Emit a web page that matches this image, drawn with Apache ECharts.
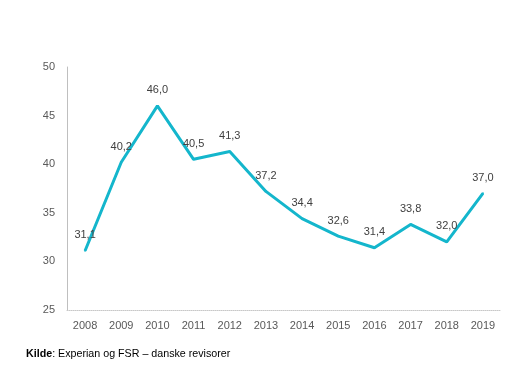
<!DOCTYPE html>
<html>
<head>
<meta charset="utf-8">
<script src="https://cdn.jsdelivr.net/npm/echarts@6/dist/echarts.min.js"></script>
<style>
html,body{margin:0;padding:0;background:#fff;}
#c{width:523px;height:382px;}
</style>
</head>
<body>
<div id="c"></div>
<script>
const years = ['2008','2009','2010','2011','2012','2013','2014','2015','2016','2017','2018','2019'];
const values = [31.1, 40.2, 46.0, 40.5, 41.3, 37.2, 34.4, 32.6, 31.4, 33.8, 32.0, 37.0];
const yTicks = {min: 25, max: 50, interval: 5};

const chart = echarts.init(document.getElementById('c'), null, {renderer: 'canvas'});
chart.setOption({
  animation: false,
  backgroundColor: '#ffffff',
  grid: {left: 67, right: 22, top: 67, bottom: 72, containLabel: false},
  xAxis: {
    type: 'category',
    data: years,
    boundaryGap: true,
    axisLine: {show: true, lineStyle: {color: '#c8c8c8', type: 'dotted', width: 1}},
    axisTick: {show: false},
    axisLabel: {color: '#595959', fontFamily: 'Liberation Sans, Arial, sans-serif', fontSize: 11, margin: 10}
  },
  yAxis: {
    type: 'value',
    min: yTicks.min, max: yTicks.max, interval: yTicks.interval,
    axisLine: {show: true, lineStyle: {color: '#bfbfbf', width: 1}},
    axisTick: {show: false},
    splitLine: {show: false},
    axisLabel: {color: '#595959', fontFamily: 'Liberation Sans, Arial, sans-serif', fontSize: 11, margin: 12}
  },
  series: [{
    type: 'line',
    data: values,
    symbol: 'circle',
    symbolSize: 2,
    showSymbol: true,
    itemStyle: {color: '#14b6cc'},
    lineStyle: {color: '#14b6cc', width: 3},
    label: {
      show: true,
      position: 'top',
      distance: 9,
      color: '#404040',
      opacity: 1,
      fontFamily: 'Liberation Sans, Arial, sans-serif',
      fontSize: 11,
      formatter: function (p) { return Number(p.value).toFixed(1).replace('.', ','); }
    },
    labelLayout: {hideOverlap: false}
  }],
  graphic: [{
    type: 'text',
    left: 26, top: 349,
    style: {
      text: '{b|Kilde}: Experian og FSR – danske revisorer',
      font: '10.7px Liberation Sans, Arial, sans-serif',
      fill: '#000',
      rich: {b: {fontWeight: 'bold', fontSize: 10.7, fontFamily: 'Liberation Sans, Arial, sans-serif', fill: '#000'}}
    }
  }]
});
</script>
</body>
</html>
